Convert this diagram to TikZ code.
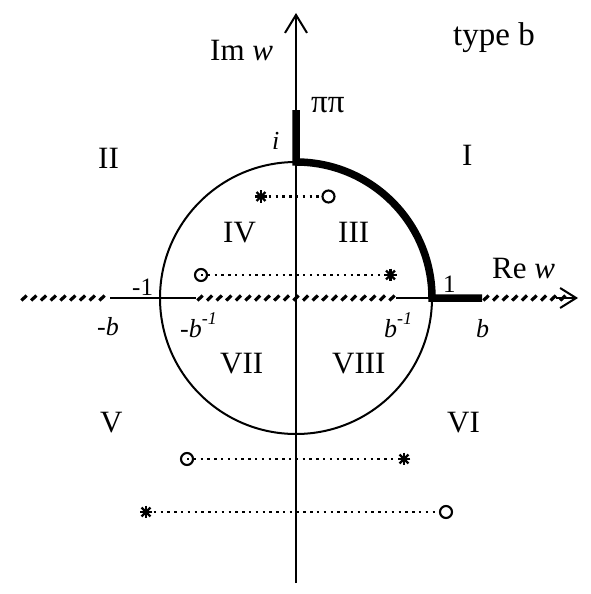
\documentclass[tikz,border=0pt]{standalone}
\usepackage{fontspec}
\setmainfont{Liberation Serif}
\usetikzlibrary{arrows.meta}
\begin{document}
\begin{tikzpicture}[x=1pt,y=-1pt,
  axisline/.style={line width=2pt},
  thickline/.style={line width=7.5pt,line join=miter},
  hatchmark/.style={line width=3.2pt},
  dotline/.style={line width=2.6pt,dash pattern=on 2.4pt off 4.4pt},
  circmark/.style={circle,draw,line width=2.1pt,minimum size=12pt,inner sep=0pt},
  starmark/.style={rectangle,inner sep=0pt,minimum size=15pt,
    path picture={\foreach \a in {0,45,90,135}{\draw[line width=2.3pt]
      ([shift={(\a:6.3pt)}]path picture bounding box.center) --
      ([shift={(\a+180:6.3pt)}]path picture bounding box.center);}}},
  lbl/.style={inner sep=0pt,anchor=base west,font=\fontsize{31}{36}\selectfont},
  sml/.style={inner sep=0pt,anchor=base west,font=\fontsize{26}{30}\selectfont\itshape},
  smlup/.style={inner sep=0pt,anchor=base west,font=\fontsize{25}{30}\selectfont},
]
\useasboundingbox (0,0) rectangle (590,594);
% named points
\coordinate (O) at (296,298);
\coordinate (mb) at (110,298);
\coordinate (mbinv) at (196,298);
\coordinate (binv) at (396,298);
\coordinate (one) at (432,298);
\coordinate (bb) at (482,298);
\coordinate (xa) at (556,298);
\coordinate (xe) at (578,298);
\coordinate (ybot) at (296,583);
\coordinate (ytop) at (296,13);
\coordinate (ii) at (296,162);
\coordinate (pp) at (296,110);

% circle
\draw[axisline] (O) circle[radius=136];
% vertical axis
\draw[axisline,-{Straight Barb[length=18pt,width=22pt]}] (ybot) -- (ytop);
% real axis: thin parts
\draw[axisline] (mb) -- (mbinv);
\draw[axisline] (binv) -- (one);
\draw[axisline,-{Straight Barb[length=16pt,width=20pt]}] (xa) -- (xe);
% hatching
\foreach \x in {24,33.75,...,107} {\draw[hatchmark] (\x-2.6,300.5) -- (\x+2.6,295.5);}
\foreach \x in {200,209.6,...,393} {\draw[hatchmark] (\x-2.6,300.5) -- (\x+2.6,295.5);}
\foreach \x in {486,495.6,...,570} {\draw[hatchmark] (\x-2.6,300.5) -- (\x+2.6,295.5);}
% thick boundary
\draw[thickline] (pp) -- (ii) arc[start angle=-90,end angle=0,radius=136] -- (bb);

% markers
\node[starmark] (s1) at (261,196.5) {};
\node[circmark] (c1) at (328.5,196.5) {};
\node[circmark] (c2) at (201,275) {};
\node[starmark] (s2) at (390.5,275) {};
\node[circmark] (c3) at (187,459) {};
\node[starmark] (s3) at (404,459) {};
\node[starmark] (s4) at (146,512) {};
\node[circmark] (c4) at (446,512) {};
\draw[dotline] (s1) -- (c1);
\draw[dotline] (c2.center) -- (s2);
\draw[dotline] (c3.center) -- (s3);
\draw[dotline] (s4) -- (c4);

% labels
\node[lbl] (tIm) at (210,60) {Im \textit{w}};
\node[lbl,font=\fontsize{33}{36}\selectfont] (ttype) at (453,46) {type b};
\node[lbl,font=\fontsize{33}{36}\selectfont] (tpi) at (311,112) {ππ};
\node[sml] (ti) at (272,149) {i};
\node[lbl] (tII) at (98,168) {II};
\node[lbl] (tI) at (462,165) {I};
\node[lbl] (tIV) at (223,242) {IV};
\node[lbl] (tIII) at (338,242) {III};
\node[smlup] (tm1) at (132,295) {-1};
\node[smlup] (t1) at (443,292) {1};
\node[lbl] (tRe) at (492,278) {Re \textit{w}};
\node[sml] (tmb) at (97,335) {-b};
\node[sml] (tmbi) at (180,337) {-b\raisebox{13pt}{\fontsize{18}{20}\selectfont -1}};
\node[sml] (tbi) at (384,337) {b\raisebox{13pt}{\fontsize{18}{20}\selectfont -1}};
\node[sml] (tb) at (476,337) {b};
\node[lbl] (tVII) at (220,373) {VII};
\node[lbl] (tVIII) at (332,373) {VIII};
\node[lbl] (tV) at (100,432) {V};
\node[lbl] (tVI) at (447,432) {VI};
\end{tikzpicture}
\end{document}
